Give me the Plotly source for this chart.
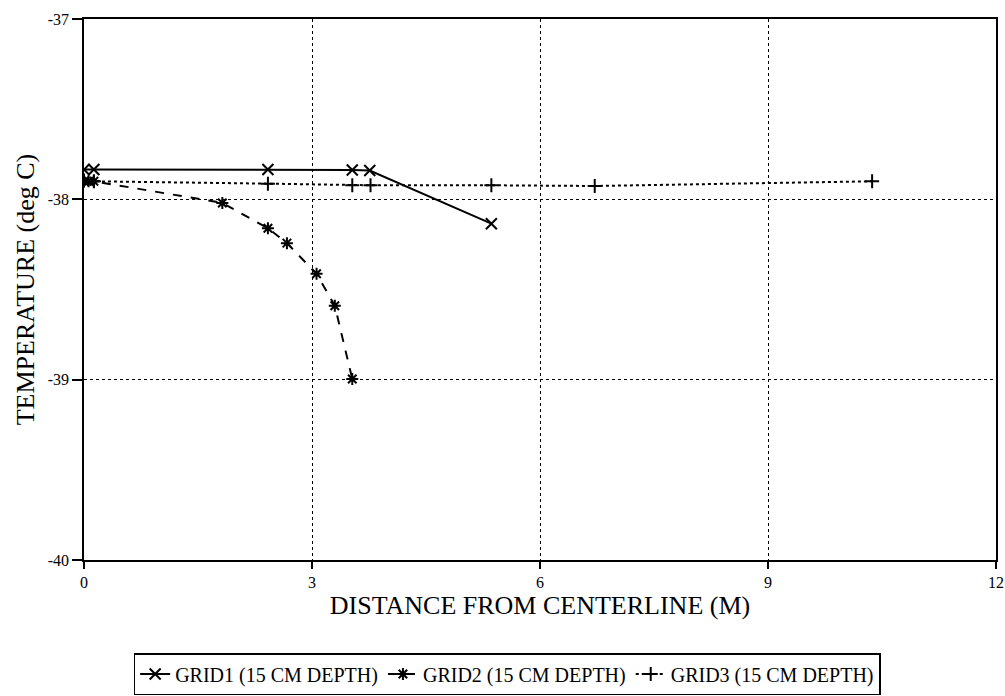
import plotly.graph_objects as go

# Temperature profiles at 15 cm depth versus distance from centerline
grid1_x = [0.0, 0.13, 2.42, 3.53, 3.76, 5.36]
grid1_t = [-37.835, -37.835, -37.835, -37.837, -37.84, -38.135]

grid2_x = [0.0, 0.06, 0.13, 1.82, 2.42, 2.67, 3.06, 3.30, 3.53]
grid2_t = [-37.9, -37.9, -37.9, -38.02, -38.16, -38.243, -38.413, -38.59, -38.996]

grid3_x = [0.0, 0.13, 2.42, 3.53, 3.77, 5.36, 6.72, 10.37]
grid3_t = [-37.896, -37.9, -37.913, -37.922, -37.922, -37.922, -37.926, -37.90]

x_ticks = [0, 3, 6, 9, 12]
y_ticks = [-40, -39, -38, -37]

FONT = "Liberation Serif, Times New Roman, serif"

fig = go.Figure()
fig.add_trace(go.Scatter(
    x=grid1_x, y=grid1_t, mode="lines+markers", name="GRID1 (15 CM DEPTH)",
    line=dict(color="black", width=2, dash="solid"),
    marker=dict(symbol="x-thin-open", size=11, line=dict(color="black", width=2)),
))
fig.add_trace(go.Scatter(
    x=grid2_x, y=grid2_t, mode="lines+markers", name="GRID2 (15 CM DEPTH)",
    line=dict(color="black", width=2, dash="dash"),
    marker=dict(symbol="asterisk-open", size=10, line=dict(color="black", width=2)),
))
fig.add_trace(go.Scatter(
    x=grid3_x, y=grid3_t, mode="lines+markers", name="GRID3 (15 CM DEPTH)",
    line=dict(color="black", width=2, dash="dot"),
    marker=dict(symbol="cross-thin-open", size=10, line=dict(color="black", width=2)),
))

axis_common = dict(
    showline=True, linecolor="black", linewidth=1.5, mirror=True,
    ticks="outside", tickcolor="black", tickwidth=1.5,
    showgrid=True, gridcolor="black", gridwidth=1, griddash="dot",
    zeroline=False, automargin=False, ticklabeloverflow="allow",
    tickfont=dict(family=FONT, size=16, color="black"),
)

fig.update_xaxes(
    range=[0, 12], tickvals=x_ticks, ticktext=[str(v) for v in x_ticks],
    ticklen=7,
    title=dict(text="DISTANCE FROM CENTERLINE (M)", font=dict(family=FONT, size=26, color="black"), standoff=6),
    **axis_common,
)
fig.update_yaxes(
    range=[-40, -37], tickvals=y_ticks, ticktext=[str(v) for v in y_ticks],
    ticklen=10,
    title=dict(text="TEMPERATURE (deg C)", font=dict(family=FONT, size=26, color="black"), standoff=6),
    **axis_common,
)

fig.update_layout(
    width=1005, height=696,
    margin=dict(l=84, r=9, t=19, b=136, autoexpand=False),
    paper_bgcolor="white", plot_bgcolor="white",
    font=dict(family=FONT, color="black"),
    legend=dict(
        orientation="h", x=0.464, xanchor="center", y=-0.172, yanchor="top",
        bordercolor="black", borderwidth=1.5,
        font=dict(family=FONT, size=20, color="black"),
        itemwidth=30,
    ),
)

fig.write_html("out.html")
